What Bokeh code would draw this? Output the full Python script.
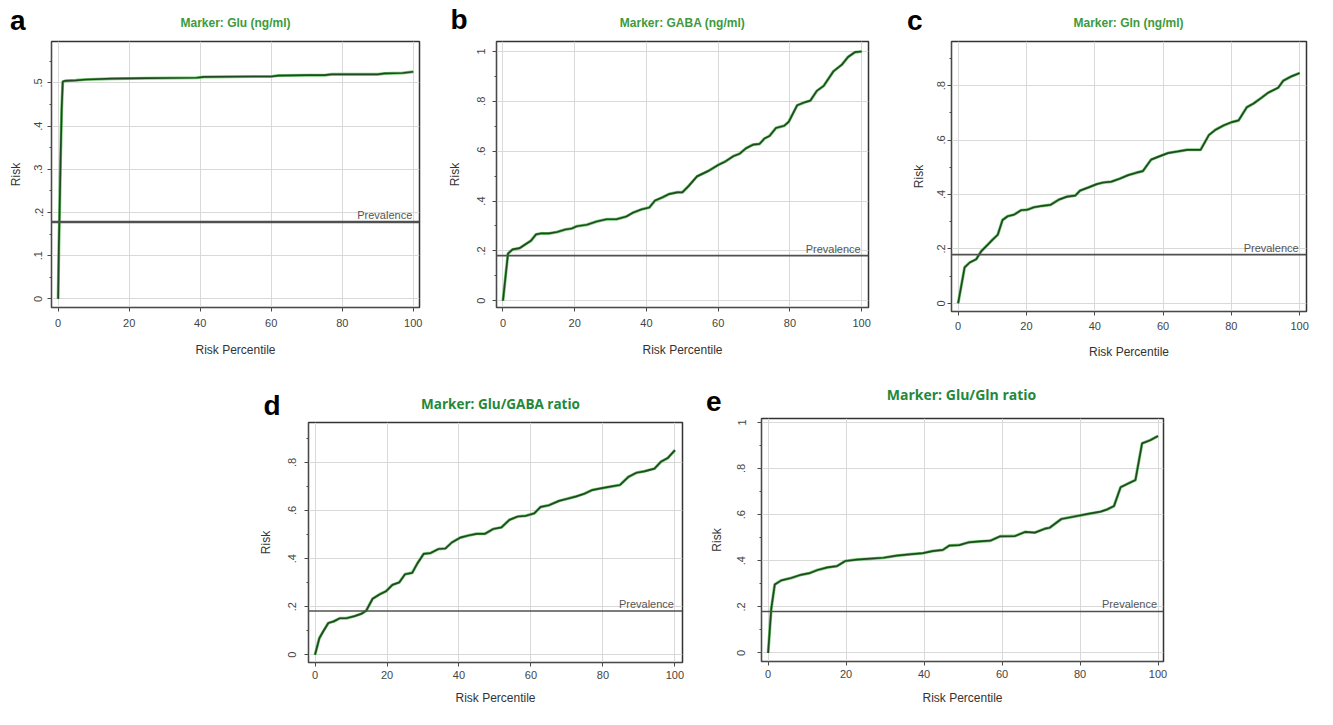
from bokeh.plotting import figure
from bokeh.models import FixedTicker, Span, Spacer, Range1d
from bokeh.layouts import row, column
from bokeh.embed import file_html
from bokeh.resources import INLINE
from bokeh.core.properties import value

# ---------------- data ----------------
x_glu = [0, 0.2, 0.45, 0.7, 1.0, 1.3, 2.0, 5, 8, 15, 25, 39, 41, 55, 60, 62, 70, 75, 77, 90, 92, 97, 100]
y_glu = [0, 0.12, 0.22, 0.33, 0.44, 0.503, 0.505, 0.506, 0.508, 0.510, 0.511, 0.512, 0.514, 0.515,
         0.515, 0.517, 0.518, 0.518, 0.520, 0.520, 0.522, 0.523, 0.526]

x_gaba = [0, 1.4, 2.7, 4.6, 6.4, 7.8, 9.2, 10.5, 12.8, 15.1, 17.4, 19.2, 20.6, 23.4, 26.1, 28.9, 31.6,
          34.4, 36.2, 38.5, 40.8, 42.4, 44.5, 46.3, 48.6, 50.0, 51.8, 54.1, 57.3, 60.0, 61.9, 64.2,
          66.0, 67.8, 69.7, 71.5, 72.9, 74.3, 76.1, 78.4, 79.7, 82.0, 84.3, 85.7, 87.5, 89.4, 92.1,
          94.4, 96.2, 98.1, 100]
y_gaba = [0, 0.189, 0.206, 0.211, 0.228, 0.241, 0.266, 0.270, 0.270, 0.276, 0.286, 0.290, 0.299, 0.305,
          0.318, 0.327, 0.327, 0.338, 0.353, 0.366, 0.374, 0.402, 0.415, 0.428, 0.435, 0.435, 0.461,
          0.499, 0.521, 0.545, 0.558, 0.580, 0.590, 0.612, 0.626, 0.629, 0.651, 0.661, 0.693, 0.702,
          0.719, 0.784, 0.797, 0.803, 0.842, 0.862, 0.920, 0.946, 0.978, 0.997, 1.0]

x_gln = [0, 1.9, 3.4, 5.3, 6.8, 8.7, 10.1, 11.6, 13.0, 14.5, 16.4, 18.4, 20.3, 22.2, 24.6, 27.1, 29.5,
         31.9, 34.3, 35.7, 38.2, 40.6, 42.5, 44.9, 47.3, 49.8, 52.2, 54.1, 56.5, 58.9, 61.4, 64.3,
         67.1, 71.0, 73.4, 75.4, 77.8, 80.2, 82.1, 84.5, 86.5, 88.9, 90.8, 93.7, 95.2, 97.6, 100]
y_gln = [0, 0.132, 0.150, 0.162, 0.192, 0.216, 0.234, 0.252, 0.306, 0.320, 0.326, 0.342, 0.344, 0.353,
         0.358, 0.362, 0.381, 0.392, 0.396, 0.414, 0.426, 0.438, 0.444, 0.447, 0.458, 0.471, 0.480,
         0.486, 0.528, 0.540, 0.552, 0.558, 0.564, 0.564, 0.618, 0.638, 0.654, 0.666, 0.672, 0.720,
         0.734, 0.756, 0.774, 0.792, 0.818, 0.834, 0.846]

x_glu_gaba = [0, 1.2, 2.3, 3.7, 5.2, 6.9, 8.7, 11.0, 12.8, 14.2, 16.0, 17.9, 19.7, 21.5, 23.4, 25.0,
              27.0, 28.4, 30.2, 32.1, 34.3, 36.2, 38.0, 40.3, 42.6, 44.9, 47.2, 49.5, 51.8, 54.0,
              56.3, 58.6, 60.9, 62.7, 65.0, 67.8, 70.1, 72.4, 74.7, 77.0, 79.7, 82.0, 84.7, 87.0,
              89.3, 91.5, 94.3, 96.2, 98.0, 100]
y_glu_gaba = [0, 0.069, 0.098, 0.132, 0.139, 0.152, 0.152, 0.161, 0.170, 0.183, 0.233, 0.251, 0.264,
              0.291, 0.301, 0.335, 0.341, 0.379, 0.420, 0.423, 0.440, 0.442, 0.467, 0.487, 0.496,
              0.503, 0.503, 0.523, 0.530, 0.561, 0.575, 0.578, 0.588, 0.615, 0.622, 0.640, 0.649,
              0.658, 0.669, 0.685, 0.693, 0.699, 0.706, 0.739, 0.757, 0.763, 0.774, 0.804, 0.818, 0.851]

x_glu_gln = [0, 0.8, 1.7, 3.4, 5.9, 8.4, 10.6, 12.7, 15.2, 17.7, 19.8, 22.8, 26.2, 29.6, 32.9, 36.3,
             39.7, 42.2, 44.8, 46.5, 49.0, 51.5, 54.1, 57.0, 59.5, 63.3, 65.9, 68.4, 71.0, 72.2,
             75.2, 78.6, 82.0, 85.3, 87.0, 88.7, 90.4, 92.1, 94.2, 95.9, 98.0, 100]
y_glu_gln = [0, 0.191, 0.297, 0.315, 0.325, 0.339, 0.346, 0.360, 0.371, 0.377, 0.399, 0.405, 0.409,
             0.413, 0.422, 0.428, 0.433, 0.442, 0.447, 0.466, 0.468, 0.480, 0.484, 0.487, 0.506,
             0.507, 0.525, 0.522, 0.539, 0.543, 0.581, 0.592, 0.603, 0.613, 0.623, 0.637, 0.719,
             0.733, 0.750, 0.909, 0.923, 0.941]

prevalence = [0.178, 0.181, 0.179, 0.182, 0.180]
titles = ["Marker: Glu (ng/ml)", "Marker: GABA (ng/ml)", "Marker: Gln (ng/ml)",
          "Marker: Glu/GABA ratio", "Marker: Glu/Gln ratio"]
letters = ["a", "b", "c", "d", "e"]
x_label = "Risk Percentile"
y_label = "Risk"
prevalence_label = "Prevalence"

x_ticks = [0, 20, 40, 60, 80, 100]
x_tick_labels = ["0", "20", "40", "60", "80", "100"]
y_ticks_a = [0, 0.1, 0.2, 0.3, 0.4, 0.5]
y_tick_labels_a = ["0", ".1", ".2", ".3", ".4", ".5"]
y_minor_a = [0.05, 0.15, 0.25, 0.35, 0.45, 0.55]
y_ticks_b = [0, 0.2, 0.4, 0.6, 0.8, 1]
y_tick_labels_b = ["0", ".2", ".4", ".6", ".8", "1"]
y_minor_b = [0.1, 0.3, 0.5, 0.7, 0.9]

series = [(x_glu, y_glu), (x_gaba, y_gaba), (x_gln, y_gln), (x_glu_gaba, y_glu_gaba), (x_glu_gln, y_glu_gln)]

# ---------------- layout (reference pixel geometry, scaled to fit) ----------------
SX = 1317 / 1333
SY = 709 / 725


def sx(v):
    return int(round(v * SX))


def sy(v):
    return int(round(v * SY))


# box = (x1, x2, y1, y2) of the panel; frame = (x1, x2, y1, y2) of its plot area
# letter = (right edge of the letter, its baseline); tpos = title centre
layout_spec = [
    dict(box=(0, 440, 0, 375), frame=(52, 424, 41, 314), xr=(-1.87, 101.75), yr=(-0.02, 0.596),
         ticks=0, tpos=(238, 23), tsize="12px", tcolor="#3d9a3d", tfont="Liberation Sans",
         letter=(25.5, 40), ylstand=5, yastand=9, xlstand=7, xastand=13, prev_w=2.4),
    dict(box=(440, 885, 0, 375), frame=(502, 879, 41, 314), xr=(-1.8, 101.9), yr=(-0.027, 1.04),
         ticks=1, tpos=(690, 23), tsize="12px", tcolor="#3d9a3d", tfont="Liberation Sans",
         letter=(473, 41), ylstand=7, yastand=13, xlstand=7, xastand=13, prev_w=1.6),
    dict(box=(885, 1333, 0, 375), frame=(963, 1322, 41, 318), xr=(-1.94, 102.0), yr=(-0.03, 0.962),
         ticks=1, tpos=(1142, 22), tsize="12px", tcolor="#3d9a3d", tfont="Liberation Sans",
         letter=(933, 40), ylstand=2, yastand=9, xlstand=6, xastand=12, prev_w=1.6),
    dict(box=(250, 700, 375, 725), frame=(312, 690, 430, 677), xr=(-1.81, 102.1), yr=(-0.032, 0.966),
         ticks=1, tpos=(506, 412), tsize="13.5px", tcolor="#23883a", tfont="Open Sans",
         letter=(283, 425), ylstand=8, yastand=13, xlstand=4, xastand=9, prev_w=1.4),
    dict(box=(700, 1333, 375, 725), frame=(770, 1177, 426, 676), xr=(-1.7, 101.4), yr=(-0.037, 1.017),
         ticks=1, tpos=(973, 403), tsize="14px", tcolor="#23883a", tfont="Open Sans",
         letter=(730, 420), ylstand=12, yastand=11, xlstand=4, xastand=10, prev_w=1.4),
]

AX_COLOR = "#4a4a4a"
TXT_COLOR = "#444444"


def make_header(i):
    """Strip above the plot frame: marker title inside it, panel letter as its left tick label."""
    L = layout_spec[i]
    X1, X2, Y1, Y2 = L["box"]
    fx1, fx2, fy1, fy2 = L["frame"]
    W = sx(X2) - sx(X1)
    H = sy(fy1) - sy(Y1)
    left_b = sx(fx1) - sx(X1)
    right_b = sx(X2) - sx(fx2)
    FW = W - left_b - right_b
    h = figure(width=W, height=H, x_range=Range1d(0, FW), y_range=Range1d(0, H),
               output_backend="svg", toolbar_location=None,
               x_axis_location=None, y_axis_location="left",
               min_border=0, min_border_left=left_b, min_border_right=right_b,
               min_border_top=0, min_border_bottom=0)
    h.grid.visible = False
    h.outline_line_color = None
    h.background_fill_color = "white"
    h.border_fill_color = "white"

    tx, ty = L["tpos"]
    h.text(x=[sx(tx) - sx(fx1)], y=[H - (sy(ty) - sy(Y1))], text=[titles[i]],
           text_align="center", text_baseline="middle", text_color=L["tcolor"],
           text_font=value(L["tfont"]), text_font_size=L["tsize"], text_font_style="bold")

    lr, lb = L["letter"]
    tick_y = int(round(H - (sy(lb - 10) - sy(Y1))))
    tick_y = max(1, min(H - 1, tick_y))
    ya = h.yaxis[0]
    ya.ticker = FixedTicker(ticks=[tick_y], minor_ticks=[])
    ya.major_label_overrides = {tick_y: letters[i]}
    ya.major_label_orientation = "horizontal"
    ya.axis_line_color = None
    ya.major_tick_line_color = None
    ya.minor_tick_line_color = None
    ya.major_tick_out = 0
    ya.major_tick_in = 0
    ya.major_label_standoff = max(0, sx(fx1) - sx(lr))
    ya.major_label_text_font = "Liberation Sans"
    ya.major_label_text_font_size = "28px"
    ya.major_label_text_font_style = "bold"
    ya.major_label_text_color = "black"
    return h


def make_panel(i):
    L = layout_spec[i]
    X1, X2, Y1, Y2 = L["box"]
    fx1, fx2, fy1, fy2 = L["frame"]
    xr0, xr1 = L["xr"]
    yr0, yr1 = L["yr"]
    p = figure(width=sx(X2) - sx(X1), height=sy(Y2) - sy(fy1),
               x_range=Range1d(xr0, xr1), y_range=Range1d(yr0, yr1),
               output_backend="svg", toolbar_location=None,
               min_border_left=sx(fx1) - sx(X1), min_border_right=sx(X2) - sx(fx2),
               min_border_top=1, min_border_bottom=sy(Y2) - sy(fy2))
    p.background_fill_color = "white"
    p.border_fill_color = "white"
    p.outline_line_color = "#333333"
    p.outline_line_width = 1.5

    if L["ticks"] == 0:
        yt, yl, ym = y_ticks_a, y_tick_labels_a, y_minor_a
    else:
        yt, yl, ym = y_ticks_b, y_tick_labels_b, y_minor_b

    def key(t):
        return int(t) if float(t).is_integer() else float(t)

    p.xaxis.ticker = FixedTicker(ticks=x_ticks, minor_ticks=[])
    p.xaxis.major_label_overrides = {key(t): s for t, s in zip(x_ticks, x_tick_labels)}
    p.yaxis.ticker = FixedTicker(ticks=yt, minor_ticks=ym)
    p.yaxis.major_label_overrides = {key(t): s for t, s in zip(yt, yl)}
    p.yaxis.major_label_orientation = "parallel"

    for ax in (p.xaxis, p.yaxis):
        ax.axis_line_color = AX_COLOR
        ax.major_tick_line_color = AX_COLOR
        ax.minor_tick_line_color = AX_COLOR
        ax.major_tick_out = 4
        ax.major_tick_in = 0
        ax.minor_tick_out = 2
        ax.minor_tick_in = 0
        ax.major_label_text_font = "Liberation Sans"
        ax.major_label_text_font_size = "11px"
        ax.major_label_text_color = TXT_COLOR
        ax.axis_label_text_font = "Liberation Sans"
        ax.axis_label_text_font_size = "12px"
        ax.axis_label_text_font_style = "normal"
        ax.axis_label_text_color = "#333333"
    p.xaxis.axis_label = x_label
    p.yaxis.axis_label = y_label
    p.xaxis.major_label_standoff = L["xlstand"]
    p.xaxis.axis_label_standoff = L["xastand"]
    p.yaxis.major_label_standoff = L["ylstand"]
    p.yaxis.axis_label_standoff = L["yastand"]

    p.grid.grid_line_color = "#d9d9d9"
    p.grid.grid_line_width = 1

    xs, ys = series[i]
    p.line(xs, ys, line_color="#5fbf5f", line_width=3.0, line_alpha=0.85)
    p.line(xs, ys, line_color="#1f4a1f", line_width=1.7)

    p.add_layout(Span(location=prevalence[i], dimension="width", line_color="#505050",
                      line_width=L["prev_w"]))
    p.text(x=[100], y=[prevalence[i]], text=[prevalence_label], text_align="right",
           text_baseline="alphabetic", x_offset=-1, y_offset=-7, text_color="#555555",
           text_font=value("Liberation Sans"), text_font_size="11px")
    return p


cols = [column(make_header(i), make_panel(i), spacing=0) for i in range(5)]
top = row(cols[0], cols[1], cols[2], spacing=0)
bottom = row(Spacer(width=sx(250), height=sy(725) - sy(375)), cols[3], cols[4], spacing=0)
layout = column(top, bottom, spacing=0)

open("out.html", "w").write(file_html(layout, INLINE))
